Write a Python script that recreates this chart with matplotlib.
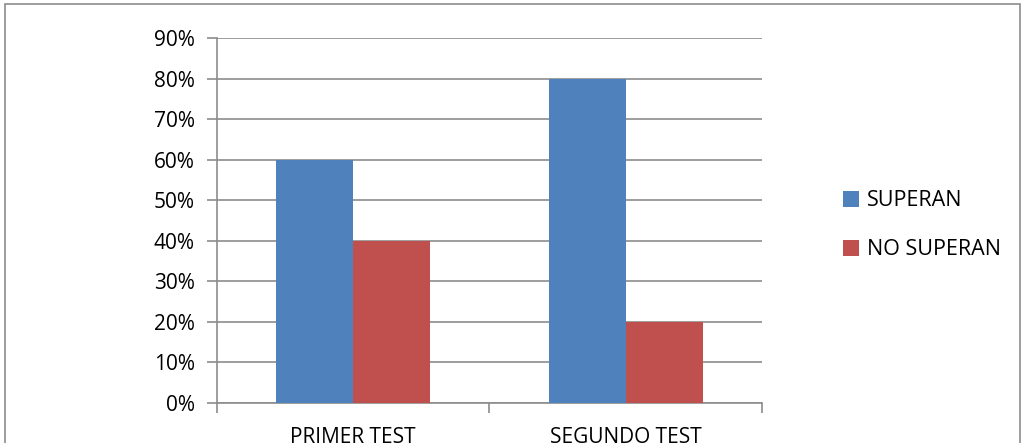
import matplotlib.pyplot as plt
import numpy as np
from matplotlib.patches import Rectangle

categories = ['PRIMER TEST', 'SEGUNDO TEST']
superan = [60, 80]
no_superan = [40, 20]
yticks = [0, 10, 20, 30, 40, 50, 60, 70, 80, 90]

plt.rcParams['font.family'] = ['Open Sans', 'DejaVu Sans']

fig = plt.figure(figsize=(10.24, 4.43), dpi=100)
ax = fig.add_axes([0.212, 0.0903, 0.532, 0.8237])

x = np.arange(len(categories))
w = 0.283
ax.bar(x - w / 2, superan, w, color='#4f81bd', label='SUPERAN', zorder=3)
ax.bar(x + w / 2, no_superan, w, color='#c0504d', label='NO SUPERAN', zorder=3)

ax.set_xlim(-0.5, 1.5)
ax.set_ylim(0, 90)
ax.set_yticks(yticks)
ax.set_yticklabels([f'{v}%' for v in yticks], fontsize=15)
ax.yaxis.grid(True, color='#8c8c8c', linewidth=1.2, zorder=0)
ax.tick_params(axis='y', length=7, color='#8c8c8c', width=1.2, pad=9)

ax.set_xticks([-0.5, 0.5, 1.5])
ax.set_xticklabels([])
ax.set_xticks(x, minor=True)
ax.set_xticklabels(categories, minor=True, fontsize=15)
ax.tick_params(axis='x', which='major', length=7, color='#8c8c8c', width=1.2)
ax.tick_params(axis='x', which='minor', length=0, pad=17)

for s in ['top', 'right']:
    ax.spines[s].set_visible(False)
for s in ['left', 'bottom']:
    ax.spines[s].set_color('#8c8c8c')
    ax.spines[s].set_linewidth(1.2)

ax.legend(loc='center left', bbox_to_anchor=(1.114, 0.487), frameon=False,
          fontsize=15.5, handlelength=0.75, handleheight=0.75, handletextpad=0.35,
          labelspacing=1.3)

fig.patches.append(Rectangle((0.005, -0.1), 0.991, 1.09, transform=fig.transFigure,
                             fill=False, edgecolor='#8c8c8c', linewidth=1.2))

fig.savefig('out.png', dpi=100)
